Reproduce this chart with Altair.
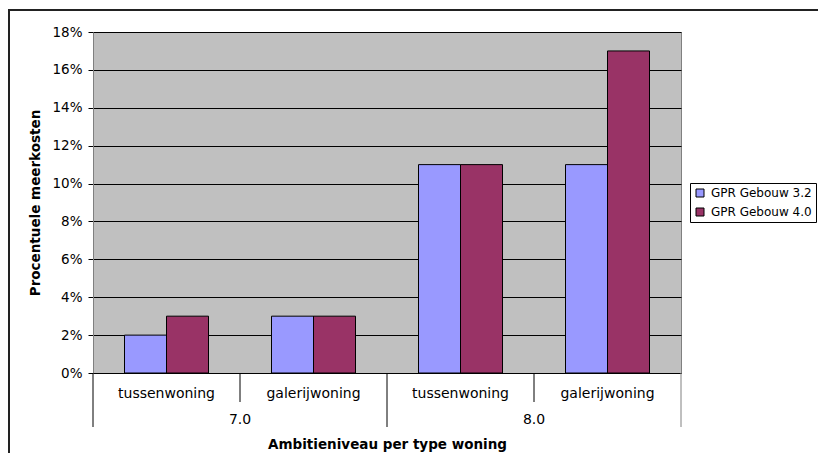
import altair as alt
import pandas as pd

# ---- data ----
levels = ["7.0", "7.0", "8.0", "8.0"]
types = ["tussenwoning", "galerijwoning", "tussenwoning", "galerijwoning"]
series_names = ["GPR Gebouw 3.2", "GPR Gebouw 4.0"]
gpr32 = [0.02, 0.03, 0.11, 0.11]
gpr40 = [0.03, 0.03, 0.11, 0.17]
y_ticks = [0, 0.02, 0.04, 0.06, 0.08, 0.10, 0.12, 0.14, 0.16, 0.18]

cats = [f"{l}|{t}" for l, t in zip(levels, types)]
rows = []
for c, a, b in zip(cats, gpr32, gpr40):
    rows.append({"cat": c, "series": series_names[0], "value": a})
    rows.append({"cat": c, "series": series_names[1], "value": b})
df = pd.DataFrame(rows)

W, H = 588, 341
FONT = "DejaVu Sans"

xscale = alt.Scale(domain=cats, paddingInner=0, paddingOuter=0)

bars = alt.Chart(df).mark_bar(stroke="black", strokeWidth=1).encode(
    x=alt.X("cat:N", scale=xscale, sort=cats,
            axis=alt.Axis(title="Ambitieniveau per type woning",
                          labelExpr="split(datum.label, '|')[1]",
                          labelAngle=0, ticks=False, domain=True,
                          domainColor="black", labelPadding=13,
                          labelFontSize=14, labelColor="black", labelFont=FONT,
                          titleFontSize=13.5, titleFontWeight="bold", titleFont=FONT,
                          titlePadding=37, titleColor="black")),
    xOffset=alt.XOffset("series:N", sort=series_names,
                        scale=alt.Scale(paddingOuter=0.75, paddingInner=0)),
    y=alt.Y("value:Q", scale=alt.Scale(domain=[0, 0.18], nice=False),
            axis=alt.Axis(title="Procentuele meerkosten", values=y_ticks,
                          format=".0%", grid=True, gridColor="black",
                          gridOpacity=1, gridWidth=1, tickColor="black",
                          tickSize=5, labelPadding=6, labelFontSize=13.5,
                          labelColor="black", labelFont=FONT, domainColor="#808080",
                          titleFontSize=13.5, titleFontWeight="bold", titleFont=FONT,
                          titleColor="black", titlePadding=9)),
    color=alt.Color("series:N", sort=series_names,
                    scale=alt.Scale(domain=series_names, range=["#9999FF", "#993366"]),
                    legend=alt.Legend(title=None)),
)

bound_long = pd.DataFrame({"cat": [cats[0], cats[2]]})
bound_short = pd.DataFrame({"cat": [cats[1], cats[3]]})
bound_end = pd.DataFrame({"cat": [cats[3]]})

rule_long = alt.Chart(bound_long).mark_rule(color="black").encode(
    x=alt.X("cat:N", scale=xscale, sort=cats, bandPosition=0),
    y=alt.value(H), y2=alt.value(H + 54))
rule_short = alt.Chart(bound_short).mark_rule(color="black").encode(
    x=alt.X("cat:N", scale=xscale, sort=cats, bandPosition=0),
    y=alt.value(H), y2=alt.value(H + 29))
rule_end = alt.Chart(bound_end).mark_rule(color="#808080").encode(
    x=alt.X("cat:N", scale=xscale, sort=cats, bandPosition=1),
    y=alt.value(H), y2=alt.value(H + 54))

grp = pd.DataFrame({"cat": [cats[1], cats[3]], "label": [levels[0], levels[2]]})
grp_text = alt.Chart(grp).mark_text(fontSize=14, font=FONT, color="black",
                                    baseline="middle").encode(
    x=alt.X("cat:N", scale=xscale, sort=cats, bandPosition=0),
    y=alt.value(H + 47), text="label:N")

frame = alt.Chart(pd.DataFrame({"a": [1]})).mark_rect(
    fillOpacity=0, stroke="#222222", strokeWidth=2).encode(
    x=alt.value(-84), x2=alt.value(1000), y=alt.value(-22), y2=alt.value(1000))

chart = alt.layer(frame, bars, rule_long, rule_short, rule_end, grp_text).properties(
    width=W, height=H,
    autosize=alt.AutoSizeParams(type="none"),
    padding={"left": 85, "top": 24, "right": 137, "bottom": 80},
).configure(font=FONT, background="white").configure_view(
    fill="#C0C0C0", stroke="#808080", strokeWidth=1
).configure_legend(
    orient="none", legendX=597, legendY=151, strokeColor="black",
    fillColor="white", padding=4, labelFontSize=12, labelColor="black",
    labelFont=FONT, symbolType="square", symbolSize=64, symbolStrokeColor="black",
    symbolStrokeWidth=1, rowPadding=7, labelOffset=5
)

chart.save("out.html", embed_options={"renderer": "svg", "actions": False})
